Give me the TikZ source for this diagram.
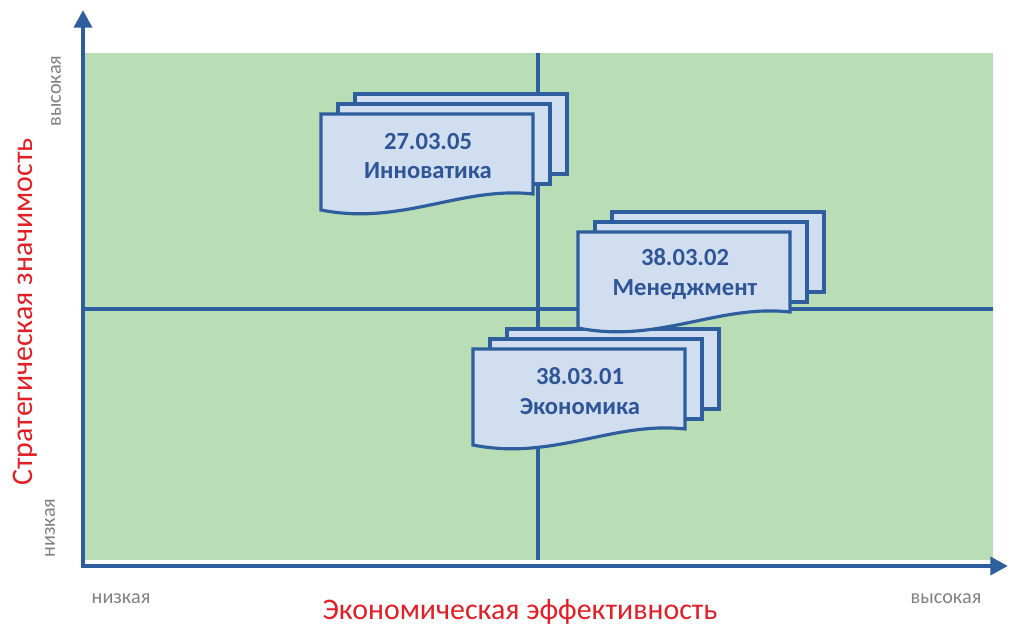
\documentclass[tikz,border=0pt]{standalone}
\usepackage{fontspec}
\setmainfont{Carlito}
\usetikzlibrary{arrows.meta}
\definecolor{fieldgreen}{RGB}{185,221,180}
\definecolor{axisblue}{RGB}{46,94,158}
\definecolor{docfill}{RGB}{208,222,240}
\definecolor{doctext}{RGB}{47,85,151}
\definecolor{labelred}{RGB}{226,30,38}
\definecolor{labelgray}{RGB}{128,128,128}

\begin{document}
\begin{tikzpicture}[x=0.02cm,y=-0.02cm,
  docsheet/.style={draw=axisblue,line width=1.8pt,fill=docfill},
  doclabel/.style={text=doctext,font=\bfseries\fontsize{14}{17}\selectfont,align=center},
  axislabel/.style={text=labelred,font=\fontsize{17}{20}\selectfont},
  levellabel/.style={text=labelgray,font=\fontsize{11.5}{13}\selectfont}]
\useasboundingbox (0,0) rectangle (1009,628);
\fill[fieldgreen] (85,53) rectangle (993,560);
\draw[axisblue,line width=2pt] (538,53) -- (538,560);
\draw[axisblue,line width=2pt] (85,309) -- (993,309);
% stacked documents
\foreach \x/\y/\code/\title/\n in {321/114/27.03.05/Инноватика/a, 473/349/38.03.01/Экономика/b, 578/232/38.03.02/Менеджмент/c} {
  \draw[docsheet] (\x+34,\y-20) rectangle (\x+246,\y+60);
  \draw[docsheet] (\x+17,\y-10) rectangle (\x+229,\y+70);
  \draw[docsheet] (\x,\y) -- (\x+212,\y) -- (\x+212,\y+80)
    .. controls (\x+140,\y+72) and (\x+80,\y+112) .. (\x,\y+96) -- cycle;
  \node[doclabel] (doc-\n) at (\x+107,\y+42) {\code\\\title};
}
% axes
\coordinate (ytip) at (83,10);
\coordinate (origin) at (83,566);
\coordinate (xtip) at (1008,566);
\draw[axisblue,line width=2.8pt,{Triangle[length=10pt,width=10pt]}-{Triangle[length=10pt,width=10pt]}] (ytip) -- (origin) -- (xtip);
\node[axislabel] (xname) at (520,612) {Экономическая эффективность};
\node[axislabel,rotate=90] (yname) at (25,312) {Стратегическая значимость};
\node[levellabel] (xlow) at (121,599) {низкая};
\node[levellabel] (xhigh) at (946,599) {высокая};
\node[levellabel,rotate=90] (ylow) at (50,528) {низкая};
\node[levellabel,rotate=90] (yhigh) at (56,91) {высокая};
\end{tikzpicture}
\end{document}
